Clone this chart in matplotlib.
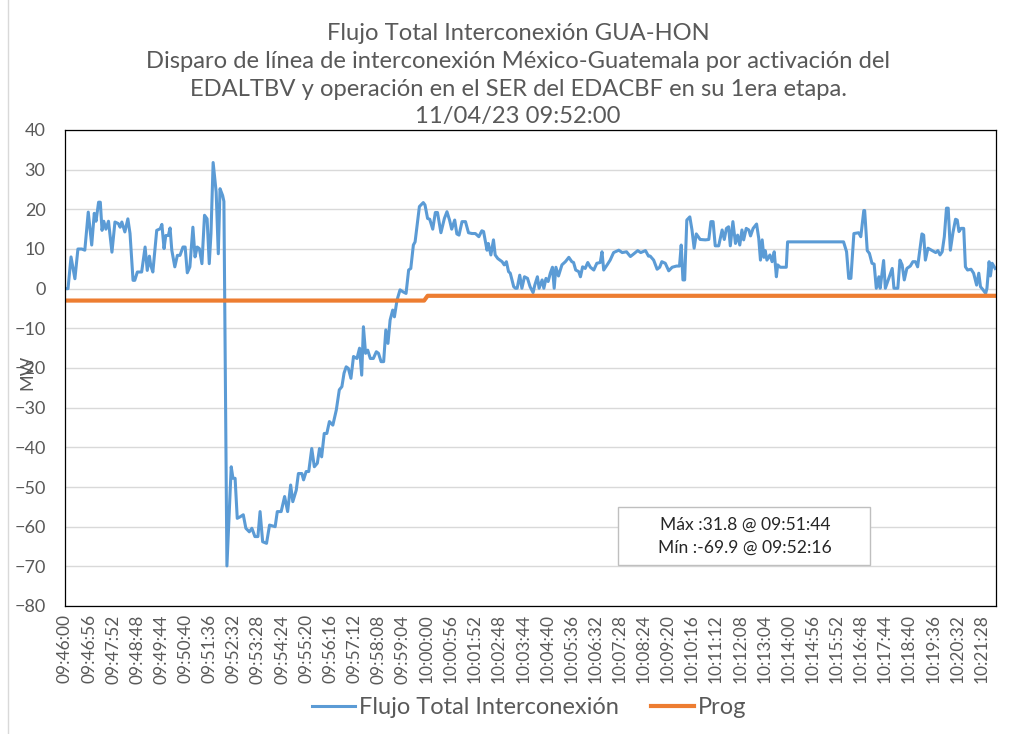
import matplotlib
matplotlib.use('Agg')
import matplotlib.pyplot as plt
from matplotlib.patches import Rectangle
from matplotlib.lines import Line2D

plt.rcParams['font.family'] = ['Lato', 'DejaVu Sans']

# seconds after 09:46:00 and flow in MW
t_a = [0, 7, 14, 23, 30, 39, 46, 54, 62, 68, 72, 78, 82, 86, 90, 95, 101, 109, 116, 124,
       128, 132, 139, 146, 151, 158, 162, 168, 178, 186, 191, 196, 199, 204, 213, 221, 225, 230,
       234, 240, 244, 248, 255, 261, 267, 274, 279, 284, 290, 297, 302, 307, 312, 318, 324, 330,
       335, 339, 344, 351, 356, 360, 366, 369, 376]
mw_a = [0, 0, 8, 2.5, 10, 10, 9.7, 19.3, 11, 19, 17, 21.8, 21.8, 14.7, 17, 15, 17, 9.2, 16.8, 16.4,
        15.5, 16.8, 14.3, 17.6, 13.9, 2.1, 2.1, 4.2, 4.2, 10.5, 4.6, 8.2, 5.9, 4.2, 14.7, 15.1, 16.2, 10.1,
        13.4, 13.4, 15.3, 9.7, 5.5, 8.4, 8.4, 10.5, 10.5, 4.0, 5.5, 15.5, 8.0, 10.5, 10.1, 6.3, 18.5, 17.6,
        6.3, 13.9, 31.8, 24.4, 8.8, 25.2, 23.5, 22.0, -69.9]

t_b = [386, 390, 395, 400, 407, 414, 420, 428, 434, 441, 448, 453, 459, 468, 475, 488, 493, 502,
       510, 517, 524, 529, 537, 542, 550, 554, 560, 566, 573, 579, 586, 591, 596, 602, 608, 614,
       622, 630, 637, 643, 648, 653, 658, 664, 670, 678, 684, 689, 693, 698, 703, 709, 716, 723,
       728, 734, 740, 745, 750, 755, 761, 765, 771, 778, 785, 792]
mw_b = [-44.9, -47.8, -47.8, -57.9, -57.5, -57.0, -60.4, -61.3, -60.4, -62.5, -62.5, -56.2, -63.8,
        -64.2, -59.6, -60.0, -56.2, -56.2, -52.4, -56.2, -49.5, -53.7, -50.8, -46.6, -46.6, -48.2,
        -46.1, -46.1, -40.3, -44.9, -44.0, -40.3, -42.4, -36.5, -36.5, -33.5, -34.4, -30.6, -25.5,
        -24.7, -21.3, -19.7, -20.1, -22.6, -17.1, -17.6, -15.0, -21.8, -9.6, -16.3, -15.5, -17.6,
        -17.6, -15.9, -16.3, -18.4, -18.4, -10.4, -13.8, -7.9, -5.4, -7.1, -2.9, -0.3, -0.8, -1.2]

t_c = [798, 803, 809, 813, 823, 832, 836, 842, 847, 854, 860, 865, 873, 881, 887, 893, 898, 905,
       910, 915, 922, 930, 937, 945, 953, 961, 968, 972, 980, 983, 989, 995, 999, 1005, 1015, 1020,
       1025, 1030, 1034, 1042, 1046, 1050, 1056, 1061, 1067, 1074, 1080, 1087, 1091, 1097, 1101,
       1108, 1112, 1117, 1122, 1127, 1132, 1136, 1140, 1146, 1154, 1162, 1170, 1177, 1181, 1186,
       1193, 1197, 1202, 1208, 1214, 1220, 1228, 1235, 1243, 1247, 1251, 1259, 1266, 1274, 1286,
       1294, 1304, 1313, 1320, 1330, 1337, 1348, 1355]
mw_c = [4.7, 5.1, 11.0, 11.8, 20.7, 21.7, 21.1, 17.7, 17.5, 15.0, 19.2, 19.2, 14.1, 17.7, 19.4, 17.3,
        15.0, 17.3, 13.8, 13.5, 16.9, 16.9, 14.1, 13.9, 13.9, 13.1, 14.6, 14.4, 9.7, 11.4, 8.5, 12.3,
        8.5, 7.6, 6.8, 6.0, 6.8, 4.3, 3.9, 0.5, 0.1, 0.1, 3.4, 0.1, 3.0, 2.6, 0.5, -1.0, 0.9, 3.0, 0.1,
        2.2, 0.1, 2.6, 1.8, 3.9, 5.4, 0.1, 5.4, 3.2, 6.0, 6.8, 7.9, 6.8, 6.6, 4.7, 4.3, 3.0, 5.5, 5.1,
        6.6, 5.4, 4.7, 6.4, 6.6, 9.3, 4.7, 6.0, 7.2, 9.1, 9.7, 9.1, 9.3, 8.1, 8.7, 9.6, 9.1, 9.6, 8.2]

t_d = [1359, 1367, 1375, 1381, 1386, 1394, 1402, 1410, 1420, 1427, 1431, 1435, 1439, 1444, 1451,
       1456, 1461, 1466, 1475, 1487, 1495, 1500, 1505, 1510, 1518, 1526, 1531, 1536, 1541, 1545,
       1551, 1557, 1562, 1567, 1572, 1576, 1582, 1588, 1592, 1598, 1606, 1611, 1615, 1619, 1623,
       1626, 1630, 1637, 1642, 1647, 1652, 1655, 1661, 1675, 1678, 1808, 1815, 1820, 1825, 1832]
mw_d = [8.2, 7.2, 4.9, 5.4, 6.8, 6.4, 4.5, 5.4, 5.7, 5.7, 11.0, 2.2, 2.2, 17.3, 18.1, 14.8, 10.2,
        13.8, 12.4, 12.3, 12.4, 16.9, 16.9, 10.8, 10.8, 14.8, 12.4, 15.2, 15.6, 10.8, 16.9, 11.4,
        13.5, 11.0, 14.8, 12.3, 15.2, 14.8, 13.3, 15.2, 16.3, 12.7, 7.2, 12.3, 7.9, 9.6, 7.2, 8.5,
        6.8, 9.3, 3.0, 6.0, 5.4, 5.4, 11.8, 11.8, 9.3, 2.6, 2.6, 13.9]

t_e = [1843, 1848, 1855, 1857, 1863, 1868, 1874, 1879, 1884, 1890, 1893, 1901, 1905, 1913, 1921,
       1925, 1934, 1939, 1944, 1949, 1955, 1963, 1969, 1975, 1980, 1985, 1990, 1994, 1998, 2004,
       2014, 2022, 2027, 2032, 2037, 2042, 2047, 2051, 2056, 2062, 2068, 2072, 2076, 2081, 2087,
       2091, 2096, 2104, 2110, 2117, 2122, 2126, 2132, 2138, 2141, 2146, 2149, 2153, 2160]
mw_e = [14.1, 13.1, 19.7, 19.7, 9.6, 8.9, 6.4, 6.2, 0.1, 3.0, 0.1, 7.1, 0.1, 2.6, 5.1, 0.1, 0.1,
        7.2, 6.0, 2.2, 5.1, 5.7, 6.8, 6.8, 5.5, 9.7, 13.8, 13.5, 7.2, 10.2, 9.6, 9.1, 9.6, 8.5, 9.3,
        13.1, 20.3, 20.3, 9.7, 14.1, 17.5, 17.3, 14.4, 15.2, 15.2, 5.5, 4.7, 4.9, 3.9, 0.9, 3.9, 0.5,
        -0.3, -1.2, 0.1, 6.8, 3.2, 6.4, 5.1]

t_prog = [0, 834, 842, 2160]
mw_prog = [-3.0, -3.0, -1.8, -1.8]

tick_labels = ['09:46:00', '09:46:56', '09:47:52', '09:48:48', '09:49:44', '09:50:40', '09:51:36',
               '09:52:32', '09:53:28', '09:54:24', '09:55:20', '09:56:16', '09:57:12', '09:58:08',
               '09:59:04', '10:00:00', '10:00:56', '10:01:52', '10:02:48', '10:03:44', '10:04:40',
               '10:05:36', '10:06:32', '10:07:28', '10:08:24', '10:09:20', '10:10:16', '10:11:12',
               '10:12:08', '10:13:04', '10:14:00', '10:14:56', '10:15:52', '10:16:48', '10:17:44',
               '10:18:40', '10:19:36', '10:20:32', '10:21:28']
tick_step = 56

t_flow = t_a + t_b + t_c + t_d + t_e
mw_flow = mw_a + mw_b + mw_c + mw_d + mw_e

grey = '#595959'
fig = plt.figure(figsize=(10.35, 7.34), dpi=100)
ax = fig.add_axes([65/1035, 1-606/734, 931/1035, 476/734])

ax.plot(t_flow, mw_flow, color='#5B9BD5', lw=2.2, solid_joinstyle='round', label='Flujo Total Interconexión')
ax.plot(t_prog, mw_prog, color='#ED7D31', lw=3.0, label='Prog')

ax.set_xlim(0, 2162)
ax.set_ylim(-80, 40)
ax.set_yticks(range(-80, 41, 10))
ax.set_xticks([i*tick_step for i in range(len(tick_labels))])
ax.set_xticklabels(tick_labels, rotation=90, fontsize=12.5, color=grey)
ax.tick_params(axis='y', length=0, pad=14, labelsize=13, labelcolor=grey)
ax.tick_params(axis='x', length=0, pad=6)
ax.grid(axis='y', color='#D9D9D9', lw=1.0)
ax.set_axisbelow(True)
for s in ax.spines.values():
    s.set_color('black')
    s.set_linewidth(0.9)

fig.text(0.026, 1-372/734, 'MW', rotation=90, ha='center', va='center', fontsize=13, color=grey)

titles = ['Flujo Total Interconexión GUA-HON',
          'Disparo de línea de interconexión México-Guatemala por activación del',
          'EDALTBV y operación en el SER del EDACBF en su 1era etapa.',
          '11/04/23 09:52:00']
for k, line in enumerate(titles):
    fig.text(518/1035, 1-(33+28*k)/734, line, ha='center', va='center', fontsize=17.1, color=grey)

# Max / Min box
fig.add_artist(Rectangle((618/1035, 1-565/734), 252/1035, 58/734, transform=fig.transFigure,
                         facecolor='white', edgecolor='#BFBFBF', lw=1.0))
fig.text(745/1035, 1-525/734, 'Máx :31.8 @ 09:51:44', ha='center', va='center', fontsize=12.6, color='#262626')
fig.text(745/1035, 1-548/734, 'Mín :-69.9 @ 09:52:16', ha='center', va='center', fontsize=12.6, color='#262626')

leg = fig.legend(loc='center', bbox_to_anchor=(529/1035, 1-708/734), ncol=2, frameon=False,
                 fontsize=17, handlelength=1.85, handletextpad=0.15, columnspacing=1.35)
for txt in leg.get_texts():
    txt.set_color(grey)

fig.add_artist(Line2D([8/1035, 8/1035], [0, 1], transform=fig.transFigure, color='#D9D9D9', lw=1.0))

fig.savefig('out.png', dpi=100)
